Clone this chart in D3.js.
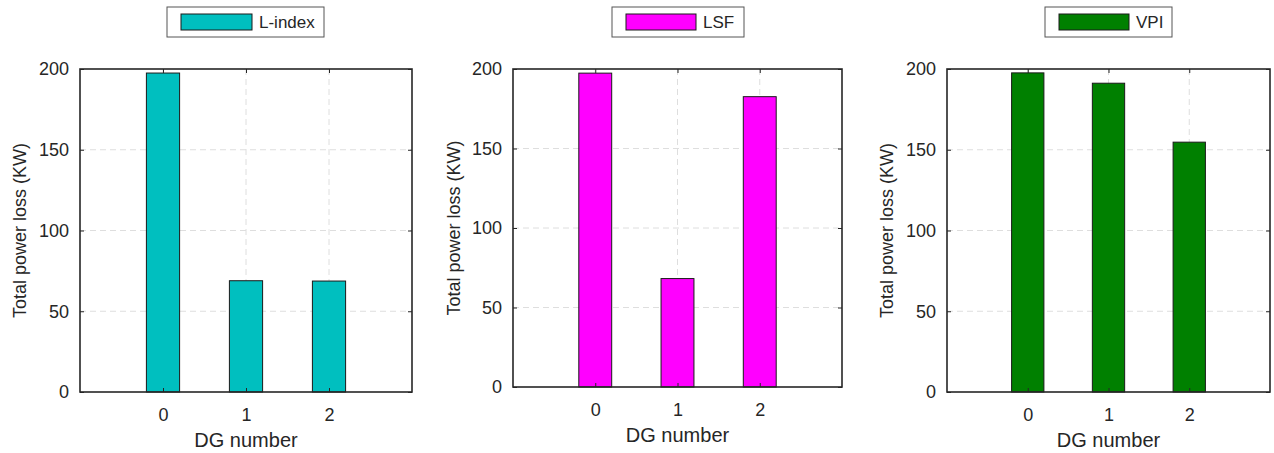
<!DOCTYPE html>
<html>
<head>
<meta charset="utf-8">
<script src="https://cdn.jsdelivr.net/npm/d3@7"></script>
<style>
  body { margin: 0; background: #fff; }
  text { font-family: "Liberation Sans", Arial, sans-serif; fill: #262626; }
</style>
</head>
<body>
<svg id="chart" width="1274" height="453"></svg>
<script>
// data
var dgNumbers = [0, 1, 2];
var lindexLoss = [197.5, 68.9, 68.7];
var lsfLoss = [197.4, 68.2, 182.6];
var vpiLoss = [197.6, 191.2, 154.7];
var yTicks = [0, 50, 100, 150, 200];
var seriesNames = ["L-index", "LSF", "VPI"];

var svg = d3.select("#chart");

var panels = [
  { name: seriesNames[0], values: lindexLoss, color: "#00bfbf",
    left: 80, right: 412, top: 69, bottom: 392, ylabX: 20,
    legend: { x: 167, w: 157, swatchW: 71 } },
  { name: seriesNames[1], values: lsfLoss, color: "#ff00ff",
    left: 513, right: 842, top: 69, bottom: 387, ylabX: 454,
    legend: { x: 612, w: 132, swatchW: 70 } },
  { name: seriesNames[2], values: vpiLoss, color: "#008000",
    left: 947, right: 1270, top: 69, bottom: 392, ylabX: 887,
    legend: { x: 1045, w: 127, swatchW: 70 } }
];

panels.forEach(drawPanel);

function drawPanel(p) {
  var x = d3.scaleLinear().domain([-1, 3]).range([p.left, p.right]);
  var y = d3.scaleLinear().domain([0, 200]).range([p.bottom, p.top]);
  var g = svg.append("g");
  var barW = x(0.4) - x(0);

  // dashed grid behind the bars
  g.selectAll(".vgrid").data(dgNumbers).enter().append("line")
    .attr("x1", d => x(d)).attr("x2", d => x(d))
    .attr("y1", p.top).attr("y2", p.bottom)
    .attr("stroke", "#dedede").attr("stroke-dasharray", "6,4");
  g.selectAll(".hgrid").data(yTicks.slice(1, -1)).enter().append("line")
    .attr("x1", p.left).attr("x2", p.right)
    .attr("y1", d => y(d)).attr("y2", d => y(d))
    .attr("stroke", "#dedede").attr("stroke-dasharray", "6,4");

  // bars
  g.selectAll(".bar").data(p.values).enter().append("rect")
    .attr("x", (d, i) => x(dgNumbers[i]) - barW / 2)
    .attr("y", d => y(d))
    .attr("width", barW)
    .attr("height", d => y(0) - y(d))
    .attr("fill", p.color)
    .attr("stroke", "#1a1a1a").attr("stroke-width", 1);

  // axes (ticks pointing inward, like the original)
  var xAxis = d3.axisBottom(x).tickValues(dgNumbers).tickSize(-4).tickPadding(16).tickFormat(d3.format("d"));
  var xTop = d3.axisTop(x).tickValues(dgNumbers).tickSize(-4).tickFormat("");
  var yAxis = d3.axisLeft(y).tickValues(yTicks).tickSize(-4).tickPadding(11);
  var yRight = d3.axisRight(y).tickValues(yTicks).tickSize(-4).tickFormat("");

  [[xAxis, "translate(0," + p.bottom + ")"], [xTop, "translate(0," + p.top + ")"],
   [yAxis, "translate(" + p.left + ",0)"], [yRight, "translate(" + p.right + ",0)"]]
    .forEach(function (a) {
      var ax = g.append("g").attr("transform", a[1]).call(a[0]);
      ax.select(".domain").remove();
      ax.selectAll("line").attr("stroke", "#262626");
      ax.selectAll("text").style("font-size", "18px").attr("fill", "#262626")
        .style("font-family", "'Liberation Sans', Arial, sans-serif");
    });

  g.append("rect")
    .attr("x", p.left).attr("y", p.top)
    .attr("width", p.right - p.left).attr("height", p.bottom - p.top)
    .attr("fill", "none").attr("stroke", "#262626").attr("stroke-width", 1.6);

  // axis titles
  g.append("text")
    .attr("x", (p.left + p.right) / 2).attr("y", p.bottom + 55)
    .attr("text-anchor", "middle").style("font-size", "20px")
    .text("DG number");
  g.append("text")
    .attr("transform", "translate(" + p.ylabX + "," + ((p.top + p.bottom) / 2) + ") rotate(-90)")
    .attr("text-anchor", "middle").attr("dy", "0.35em").style("font-size", "18px")
    .text("Total power loss (KW)");

  // legend
  var lg = g.append("g").attr("transform", "translate(" + p.legend.x + ",7)");
  lg.append("rect").attr("width", p.legend.w).attr("height", 30)
    .attr("fill", "#fff").attr("stroke", "#555").attr("stroke-width", 1);
  lg.append("rect").attr("x", 14).attr("y", 7).attr("width", p.legend.swatchW).attr("height", 16)
    .attr("fill", p.color).attr("stroke", "#1a1a1a");
  lg.append("text").attr("x", 14 + p.legend.swatchW + 7).attr("y", 15)
    .attr("dy", "0.35em").style("font-size", "17px").text(p.name);
}
</script>
</body>
</html>
